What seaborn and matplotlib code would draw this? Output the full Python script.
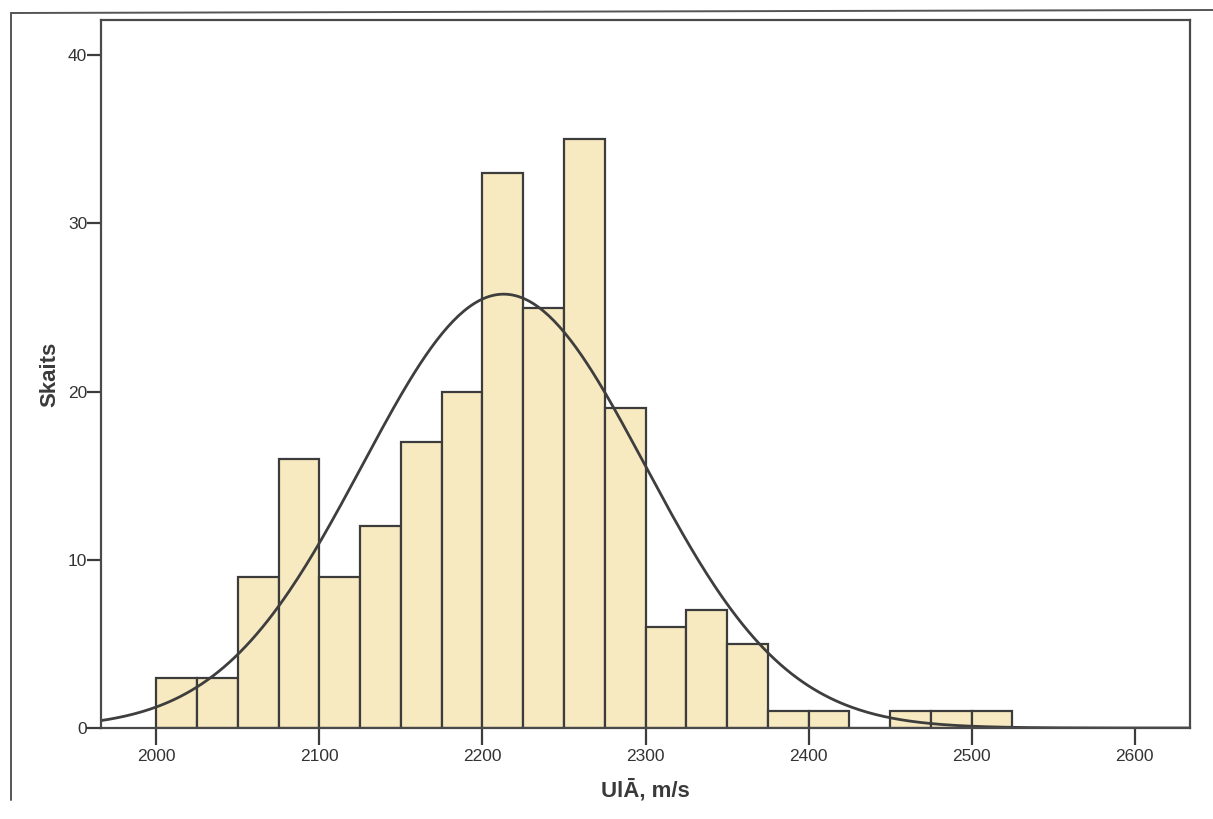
import numpy as np
import pandas as pd
import matplotlib
matplotlib.use("Agg")
import matplotlib.pyplot as plt
import seaborn as sns

# Histogram bins (m/s) and counts
bin_edges = list(range(2000, 2550, 25))
counts = [3, 3, 9, 16, 9, 12, 17, 20, 33, 25, 35, 19, 6, 7, 5, 1, 1, 0, 1, 1, 1]

# Normal curve parameters
mean_v = 2213.0
sd_v = 86.6

x_ticks = [2000, 2100, 2200, 2300, 2400, 2500, 2600]
y_ticks = [0, 10, 20, 30, 40]

sns.set_style("white")
plt.rcParams["font.family"] = ["Liberation Sans", "DejaVu Sans"]

fig = plt.figure(figsize=(12.13, 8.19), dpi=100)
ax = fig.add_axes([101 / 1213, 1 - 728 / 819, (1190 - 101) / 1213, (728 - 20) / 819])

centers = [(bin_edges[i] + bin_edges[i + 1]) / 2 for i in range(len(counts))]
df = pd.DataFrame({"v": centers, "n": counts})
sns.histplot(data=df, x="v", weights="n", bins=bin_edges, ax=ax,
             color="#F8EAC0", alpha=1.0, edgecolor="#3c3c3c", linewidth=1.6)

n_total = sum(counts)
bw = 25
xs = np.linspace(1966, 2634, 400)
ys = n_total * bw / (sd_v * np.sqrt(2 * np.pi)) * np.exp(-0.5 * ((xs - mean_v) / sd_v) ** 2)
sns.lineplot(x=xs, y=ys, ax=ax, color="#3e3e3e", linewidth=2.0)

ax.set_xlim(1966, 2634)
ax.set_ylim(0, 42.1)
ax.set_xticks(x_ticks)
ax.set_yticks(y_ticks)
ax.tick_params(axis="x", bottom=True, direction="out", length=12, width=1.6, color="#3c3c3c",
               labelsize=12.5, labelcolor="#333333", pad=3)
ax.tick_params(axis="y", left=True, direction="out", length=10, width=1.6, color="#3c3c3c",
               labelsize=12.5, labelcolor="#333333", pad=0)
for s in ax.spines.values():
    s.set_visible(True)
    s.set_color("#4a4a4a")
    s.set_linewidth(1.6)

ax.set_xlabel("UlĀ, m/s", fontsize=16, fontweight="bold", color="#3a3a3a", labelpad=11)
ax.set_ylabel("Skaits", fontsize=16, fontweight="bold", color="#3a3a3a", labelpad=5)

# page border lines
fig.add_artist(plt.Line2D([11 / 1213, 11 / 1213], [1 - 800 / 819, 1 - 13 / 819],
                          transform=fig.transFigure, color="#555555", linewidth=1.4))
fig.add_artist(plt.Line2D([11 / 1213, 1.0], [1 - 13 / 819, 1 - 10 / 819],
                          transform=fig.transFigure, color="#555555", linewidth=1.4))

fig.savefig("out.png", dpi=100)
